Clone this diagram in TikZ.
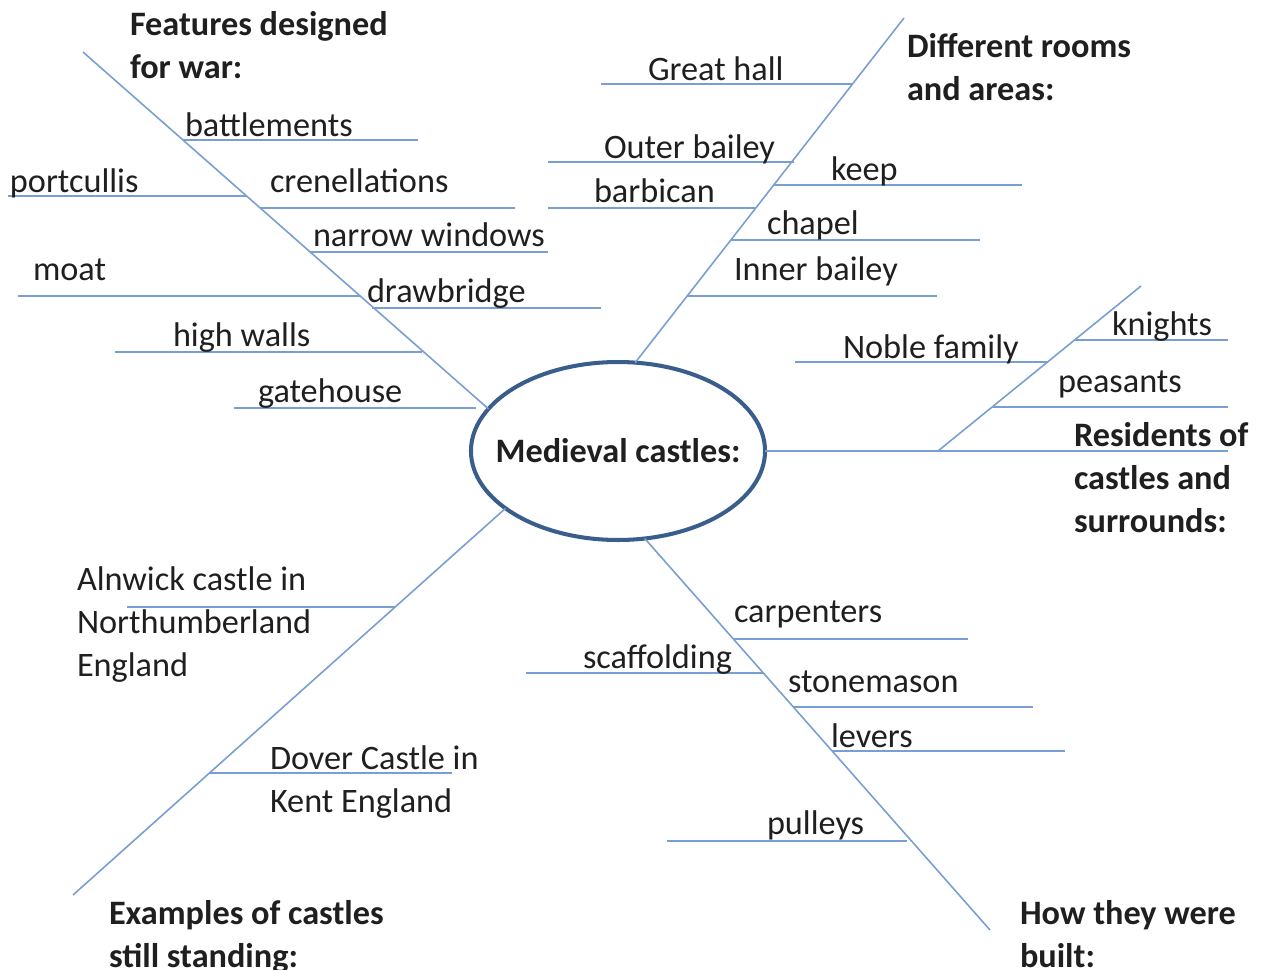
\documentclass[tikz,border=0pt]{standalone}
\usepackage{fontspec}
\setmainfont{Carlito}
\usetikzlibrary{shapes.geometric}

\definecolor{spine}{RGB}{120,158,210}
\definecolor{rim}{RGB}{58,94,140}

\tikzset{
  fishbone/.style={
    x=0.02cm, y=-0.02cm,
    every node/.style={inner sep=0pt, outer sep=0pt, text=black!88,
        font=\fontsize{19.5}{24.2}\selectfont},
    bone/.style={draw=spine, line width=0.9pt},
    twig/.style={draw=spine, line width=1.1pt},
    leaf/.style={anchor=base west},
    topic/.style={anchor=base west, align=left,
        font=\fontsize{19.5}{24.2}\selectfont\bfseries},
    hub/.style={
        ellipse,
        draw=rim,
        line width=2.3pt,
        inner xsep=-10.5pt,
        minimum width=5.86cm,
        minimum height=3.56cm,
        font=\fontsize{19.5}{24.2}\selectfont\bfseries,
    },
  }
}

\begin{document}
\begin{tikzpicture}[fishbone]
    \useasboundingbox (0,0) rectangle (1261,970);

    \node[hub] (hub) at (618,451) {Medieval castles:};

    % features designed for war
    \coordinate (war-top) at (83,52);
    \draw[bone] (war-top) -- (hub.162);
    \node[topic] (war) at (130,78) {Features designed\\for war:};
    \coordinate (batt-l) at (183,140);  \coordinate (batt-r) at (418,140);
    \coordinate (port-l) at (8,196);    \coordinate (port-r) at (247,196);
    \coordinate (cren-l) at (260,208);  \coordinate (cren-r) at (515,208);
    \coordinate (narr-l) at (310,252);  \coordinate (narr-r) at (548,252);
    \coordinate (moat-l) at (18,296);   \coordinate (moat-r) at (360,296);
    \coordinate (drab-l) at (372,308);  \coordinate (drab-r) at (601,308);
    \coordinate (high-l) at (115,352);  \coordinate (high-r) at (422,352);
    \coordinate (gate-l) at (234,408);  \coordinate (gate-r) at (476,408);
    \draw[twig] (batt-l) -- (batt-r);
    \draw[twig] (port-l) -- (port-r);
    \draw[twig] (cren-l) -- (cren-r);
    \draw[twig] (narr-l) -- (narr-r);
    \draw[twig] (moat-l) -- (moat-r);
    \draw[twig] (drab-l) -- (drab-r);
    \draw[twig] (high-l) -- (high-r);
    \draw[twig] (gate-l) -- (gate-r);
    \node[leaf] (batt) at (185,136) {battlements};
    \node[leaf] (port) at (10,192) {portcullis};
    \node[leaf] (cren) at (270,192) {crenellations};
    \node[leaf] (narr) at (313,246) {narrow windows};
    \node[leaf] (moat) at (33,280) {moat};
    \node[leaf] (drab) at (367,302) {drawbridge};
    \node[leaf] (high) at (173,346) {high walls};
    \node[leaf] (gate) at (258,402) {gatehouse};

    % different rooms and areas
    \coordinate (room-top) at (904,18);
    \draw[bone] (hub.79) -- (room-top);
    \node[topic] (rooms) at (907,100) {Different rooms\\and areas:};
    \coordinate (grea-l) at (601,84);   \coordinate (grea-r) at (852,84);
    \coordinate (outb-l) at (548,162);  \coordinate (outb-r) at (794,162);
    \coordinate (keep-l) at (774,185);  \coordinate (keep-r) at (1022,185);
    \coordinate (barb-l) at (548,208);  \coordinate (barb-r) at (755,208);
    \coordinate (chap-l) at (731,240);  \coordinate (chap-r) at (980,240);
    \coordinate (innb-l) at (687,296);  \coordinate (innb-r) at (937,296);
    \draw[twig] (grea-l) -- (grea-r);
    \draw[twig] (outb-l) -- (outb-r);
    \draw[twig] (keep-l) -- (keep-r);
    \draw[twig] (barb-l) -- (barb-r);
    \draw[twig] (chap-l) -- (chap-r);
    \draw[twig] (innb-l) -- (innb-r);
    \node[leaf] (grea) at (648,80) {Great hall};
    \node[leaf] (outb) at (604,158) {Outer bailey};
    \node[leaf] (keep) at (831,180) {keep};
    \node[leaf] (barb) at (594,202) {barbican};
    \node[leaf] (chap) at (767,234) {chapel};
    \node[leaf] (innb) at (734,280) {Inner bailey};

    % residents
    \coordinate (res-end) at (1228,451);
    \coordinate (res-fork) at (938,451);
    \coordinate (res-tip) at (1141,286);
    \draw[bone] (hub.east) -- (res-end);
    \draw[bone] (res-fork) -- (res-tip);
    \node[topic] (res) at (1074,532) {Residents of\\castles and\\surrounds:};
    \coordinate (nobl-l) at (795,362);  \coordinate (nobl-r) at (1047,362);
    \coordinate (knig-l) at (1074,340); \coordinate (knig-r) at (1228,340);
    \coordinate (peas-l) at (992,407);  \coordinate (peas-r) at (1228,407);
    \draw[twig] (nobl-l) -- (nobl-r);
    \draw[twig] (knig-l) -- (knig-r);
    \draw[twig] (peas-l) -- (peas-r);
    \node[leaf] (nobl) at (843,358) {Noble family};
    \node[leaf] (knig) at (1112,335) {knights};
    \node[leaf] (peas) at (1058,392) {peasants};

    % examples still standing
    \coordinate (ex-end) at (73,895);
    \draw[bone] (hub.207) -- (ex-end);
    \node[topic] (ex) at (109,967) {Examples of castles\\still standing:};
    \coordinate (alnw-l) at (127,607);  \coordinate (alnw-r) at (395,607);
    \coordinate (dove-l) at (210,773);  \coordinate (dove-r) at (452,773);
    \draw[twig] (alnw-l) -- (alnw-r);
    \draw[twig] (dove-l) -- (dove-r);
    \node[leaf, align=left] (alnw) at (77,676) {Alnwick castle in\\Northumberland\\England};
    \node[leaf, align=left] (dove) at (270,812) {Dover Castle in\\Kent England};

    % how they were built
    \coordinate (blt-end) at (990,930);
    \draw[bone] (hub.287) -- (blt-end);
    \node[topic] (blt) at (1020,967) {How they were\\built:};
    \coordinate (carp-l) at (733,639);  \coordinate (carp-r) at (968,639);
    \coordinate (scaf-l) at (526,673);  \coordinate (scaf-r) at (763,673);
    \coordinate (ston-l) at (793,707);  \coordinate (ston-r) at (1033,707);
    \coordinate (leve-l) at (832,751);  \coordinate (leve-r) at (1065,751);
    \coordinate (pull-l) at (667,841);  \coordinate (pull-r) at (907,841);
    \draw[twig] (carp-l) -- (carp-r);
    \draw[twig] (scaf-l) -- (scaf-r);
    \draw[twig] (ston-l) -- (ston-r);
    \draw[twig] (leve-l) -- (leve-r);
    \draw[twig] (pull-l) -- (pull-r);
    \node[leaf] (carp) at (734,622) {carpenters};
    \node[leaf] (scaf) at (583,668) {scaffolding};
    \node[leaf] (ston) at (788,692) {stonemason};
    \node[leaf] (leve) at (831,747) {levers};
    \node[leaf] (pull) at (767,834) {pulleys};
\end{tikzpicture}
\end{document}
